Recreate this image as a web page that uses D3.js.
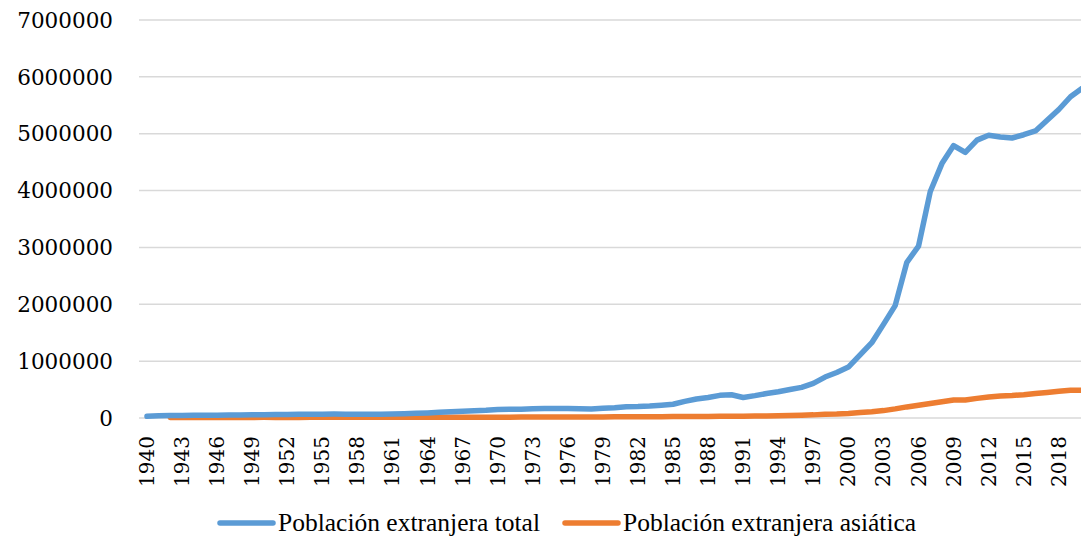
<!DOCTYPE html>
<html><head><meta charset="utf-8">
<script src="https://cdn.jsdelivr.net/npm/d3@7"></script>
<style>
html,body{margin:0;padding:0;background:#fff;}
</style></head>
<body><svg id="c" width="1081" height="539"></svg>
<script>
const years = d3.range(1940, 2021);
const totalValues = [30000,40000,45000,46000,47000,48000,50000,52000,54000,56000,
58000,60000,62000,64000,66000,68000,69000,68000,67000,66000,
66000,70000,75000,82000,90000,100000,110000,120000,128000,135000,
148000,152000,156000,162000,165000,165000,165000,162000,158000,173000,
182000,198000,201000,210000,226000,242000,293000,335000,360000,398000,
408000,361000,393000,430000,461000,500000,539000,610000,720000,801000,
896000,1109000,1324000,1647000,1977000,2738000,3022000,3980000,4474000,4791000,
4672000,4887000,4973000,4943000,4925000,4982000,5048000,5237000,5426000,5650000,
5800000];
const asianYears = d3.range(1942, 2021);
const asianValues = [10000,10000,10000,10000,10000,10000,10000,10000,
11000,11000,11000,11000,12000,12000,12000,12000,12000,12000,
13000,13000,13000,13000,13000,14000,14000,14000,14000,15000,
15000,15000,16000,16000,16000,17000,17000,18000,18000,19000,
20000,21000,22000,23000,24000,25000,26000,27000,28000,29000,
30000,31000,33000,35000,38000,45000,50000,55000,65000,70000,
80000,95000,110000,130000,160000,195000,225000,255000,285000,315000,
315000,345000,370000,385000,395000,410000,430000,450000,470000,490000,
490000];
const yTicks = [0,1000000,2000000,3000000,4000000,5000000,6000000,7000000];
const xTickYears = d3.range(1940, 2019, 3);
const seriesNames = ["Población extranjera total","Población extranjera asiática"];
const colors = ["#5B9BD5","#ED7D31"];

const numFont = "'DejaVu Serif', 'Liberation Serif', serif";
const txtFont = "'Liberation Serif', 'DejaVu Serif', serif";

const svg = d3.select("#c");
const step = 11.69;
const x0 = 147 - step/2;
const x = d3.scaleBand().domain(years).range([x0, x0 + step*years.length]).paddingInner(0).paddingOuter(0);
const cx = d => x(d) + x.bandwidth()/2;
const y = d3.scaleLinear().domain([0,7000000]).range([418,20]);

// grid
svg.append("g").selectAll("line").data(yTicks).join("line")
  .attr("x1",139).attr("x2",1081)
  .attr("y1",d=>y(d)).attr("y2",d=>y(d))
  .attr("stroke","#d9d9d9").attr("stroke-width",1.5);

// y labels
svg.append("g").selectAll("text").data(yTicks).join("text")
  .attr("x",113).attr("y",d=>y(d)).attr("dy","0.36em")
  .attr("text-anchor","end").attr("font-size",21.5)
  .attr("font-family",numFont).attr("fill","#000")
  .text(d=>d3.format("d")(d));

// x labels
svg.append("g").selectAll("text").data(xTickYears).join("text")
  .attr("transform",d=>`translate(${cx(d)+7},436) rotate(-90)`)
  .attr("text-anchor","end").attr("font-size",20)
  .attr("font-family",numFont).attr("fill","#000")
  .text(d=>d);

const line = d3.line().x(d=>cx(d[0])).y(d=>y(d[1]));
const totalData = years.map((yr,i)=>[yr,totalValues[i]]);
const asianData = asianYears.map((yr,i)=>[yr,asianValues[i]]);

svg.append("path").datum(asianData).attr("d",line)
  .attr("fill","none").attr("stroke",colors[1]).attr("stroke-width",5.5)
  .attr("stroke-linejoin","round").attr("stroke-linecap","round");
svg.append("path").datum(totalData).attr("d",line)
  .attr("fill","none").attr("stroke",colors[0]).attr("stroke-width",5.5)
  .attr("stroke-linejoin","round").attr("stroke-linecap","round");

// legend
const legX = [220, 565];
const lg = svg.append("g");
seriesNames.forEach((n,i)=>{
  lg.append("line").attr("x1",legX[i]).attr("x2",legX[i]+53).attr("y1",523).attr("y2",523)
    .attr("stroke",colors[i]).attr("stroke-width",5.5).attr("stroke-linecap","round");
  lg.append("text").attr("x",legX[i]+58).attr("y",531).attr("font-size",25.5)
    .attr("font-family",txtFont).attr("fill","#000").text(n);
});
</script></body></html>
